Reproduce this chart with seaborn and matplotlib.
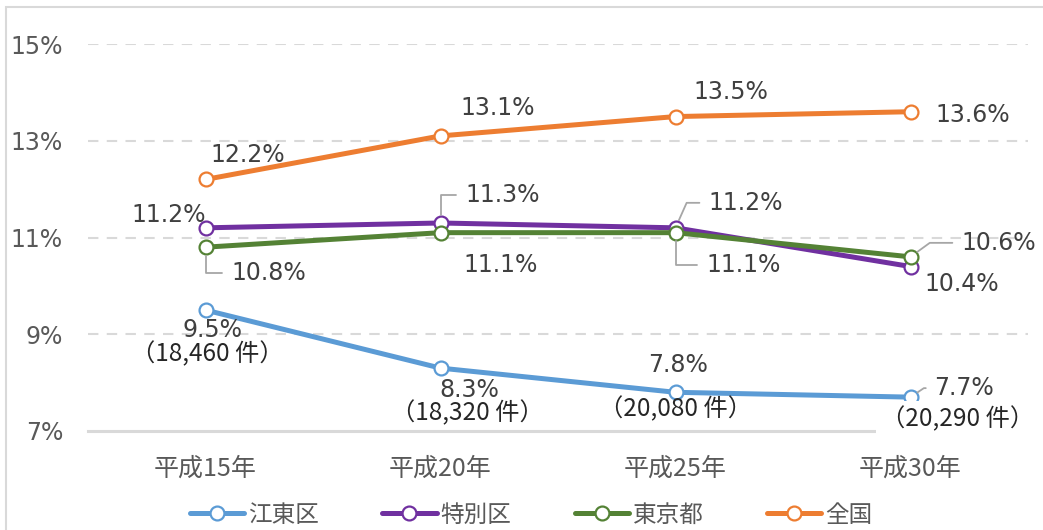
import pandas as pd
import seaborn as sns
import matplotlib.pyplot as plt

# データ
years = ['平成15年', '平成20年', '平成25年', '平成30年']
areas = ['江東区', '特別区', '東京都', '全国']
koto = [9.5, 8.3, 7.8, 7.7]
tokubetsu = [11.2, 11.3, 11.2, 10.4]
tokyo = [10.8, 11.1, 11.1, 10.6]
zenkoku = [12.2, 13.1, 13.5, 13.6]
koto_cases = ['18,460', '18,320', '20,080', '20,290']
colors = ['#5B9BD5', '#7030A0', '#548235', '#ED7D31']

df = pd.DataFrame({
    'year': years * 4,
    'area': [a for a in areas for _ in years],
    'rate': koto + tokubetsu + tokyo + zenkoku,
})

sns.set_theme(style='white')
plt.rcParams['font.family'] = ['Noto Sans CJK JP', 'DejaVu Sans']

fig = plt.figure(figsize=(10.43, 5.30), dpi=100)
ax = fig.add_axes([88 / 1043, 1 - 431 / 530, 940 / 1043, 387 / 530])

sns.lineplot(data=df, x='year', y='rate', hue='area', hue_order=areas,
             palette=colors, marker='o', markersize=10, linewidth=3.6,
             markerfacecolor='white', legend=False, ax=ax, sort=False)
for ln in ax.lines:
    ln.set_markeredgecolor(ln.get_color())
    ln.set_markeredgewidth(1.6)
    ln.set_solid_capstyle('round')

ax.set_xlim(-0.5, 3.5)
ax.set_ylim(7, 15)
ax.set_yticks([7, 9, 11, 13, 15])
ax.set_yticklabels(['7%', '9%', '11%', '13%', '15%'])
for lbl in ax.get_yticklabels():
    lbl.set_fontfamily('DejaVu Sans')
    lbl.set_fontsize(17)
    lbl.set_color('#595959')
ax.tick_params(axis='y', length=0, pad=18)
ax.tick_params(axis='x', length=0, pad=18, labelsize=18, labelcolor='#595959')
ax.set_xlabel('')
ax.set_ylabel('')
for y in [9, 11, 13, 15]:
    ax.axhline(y, color='#D9D9D9', lw=1.5, ls=(0, (5, 4)), zorder=0)
for s in ['top', 'right', 'left']:
    ax.spines[s].set_visible(False)
ax.spines['bottom'].set_color('#D9D9D9')
ax.spines['bottom'].set_linewidth(2.2)

# ラベル位置 (dx, dy) と引き出し線の角度
label_specs = {
    '全国': [((42, 24), None), ((57, 28), None), ((55, 25), None), ((62, -3), None)],
    '特別区': [((-37, 13), None), ((62, 28), 90), ((70, 25), 66), ((51, -17), None)],
    '東京都': [((63, -26), 90), ((60, -32), None), ((68, -32), 90), ((88, 14), 36)],
    '江東区': [((7, -20), None), ((29, -22), None), ((3, 27), None), ((54, 9), 34)],
}
series = {'江東区': koto, '特別区': tokubetsu, '東京都': tokyo, '全国': zenkoku}

for area in areas:
    vals = series[area]
    for i, v in enumerate(vals):
        (dx, dy), ang = label_specs[area][i]
        kw = dict(xy=(i, v), xytext=(dx, dy), textcoords='offset pixels',
                  ha='center', va='center', fontsize=17, color='#404040',
                  family='DejaVu Sans', zorder=5)
        if ang is not None:
            kw['arrowprops'] = dict(arrowstyle='-', color='#A6A6A6', lw=1.3,
                                    relpos=(0, 0.5), shrinkA=4, shrinkB=6,
                                    connectionstyle=f'angle,angleA=0,angleB={ang},rad=0')
        ax.annotate(f'{v:.1f}%', **kw)

case_offsets = [(2, -44), (27, -45), (0, -17), (47, -22)]
for i, (c, off) in enumerate(zip(koto_cases, case_offsets)):
    bb = dict(boxstyle='square,pad=0.2', fc='white', ec='none') if i == 3 else None
    ax.annotate(f'（{c} 件）', xy=(i, koto[i]), xytext=off, textcoords='offset pixels',
                ha='center', va='center', fontsize=17.5, color='#262626',
                bbox=bb, zorder=4, annotation_clip=False)

handles = ax.lines[:4]
fig.legend(handles, areas, loc='center', bbox_to_anchor=(531 / 1043, 1 - 515 / 530),
           ncol=4, frameon=False, fontsize=17, handlelength=2.3,
           handletextpad=0.15, columnspacing=2.7, labelcolor='#595959')

fig.add_artist(plt.Rectangle((6 / 1043, -0.02), 1.0, 0.02 + 1 - 7 / 530,
                             transform=fig.transFigure, fill=False,
                             ec='#D9D9D9', lw=1.5))

fig.savefig('out.png', dpi=100)
